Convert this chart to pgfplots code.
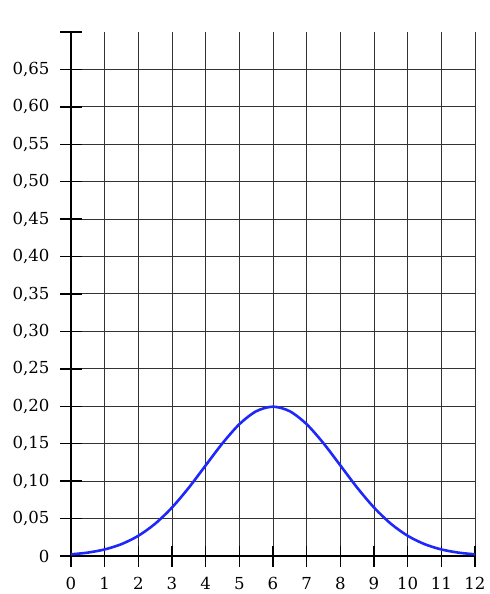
\documentclass[border=0pt]{standalone}
\usepackage{fontspec}
\setmainfont{DejaVu Serif}[Scale=1.15]
\usepackage{pgfplots}
\pgfplotsset{compat=1.18}
\definecolor{curveblue}{RGB}{30,40,250}
\definecolor{gridgray}{RGB}{50,50,50}
\begin{document}
\begin{tikzpicture}
\begin{axis}[
  at={(0pt,0pt)}, anchor=south west,
  scale only axis, width=404pt, height=524pt,
  xmin=0, xmax=12, ymin=0, ymax=0.70,
  axis x line=bottom, axis y line=left,
  axis line style={line width=2.4pt, -},
  xtick={0,...,12},
  ytick={0,0.05,...,0.66},
  yticklabels={0,{0,05},{0,10},{0,15},{0,20},{0,25},{0,30},{0,35},{0,40},{0,45},{0,50},{0,55},{0,60},{0,65}},
  extra y ticks={0.70}, extra y tick labels={},
  extra y tick style={grid=none},
  grid=major,
  major grid style={gridgray, line width=1pt},
  tick align=center, major tick length=21pt,
  major tick style={black, line width=1.3pt},
  /pgf/number format/assume math mode=true,
  every tick label/.append style={font=\Large},
  yticklabel style={xshift=-7pt},
  xticklabel style={yshift=-7pt},
  clip=false,
]
\addplot[curveblue, line width=2.6pt, smooth] coordinates {
  (0,0.00222) (0.5,0.00455) (1,0.00876) (1.5,0.01587) (2,0.02700)
  (2.5,0.04314) (3,0.06476) (3.5,0.09132) (4,0.12099) (4.5,0.15057)
  (5,0.17603) (5.5,0.19333) (6,0.19947) (6.5,0.19333) (7,0.17603)
  (7.5,0.15057) (8,0.12099) (8.5,0.09132) (9,0.06476) (9.5,0.04314)
  (10,0.02700) (10.5,0.01587) (11,0.00876) (11.5,0.00455) (12,0.00222)
};
\end{axis}
\path[use as bounding box] (-71pt,-38pt) rectangle (408pt,556pt);
\end{tikzpicture}
\end{document}
